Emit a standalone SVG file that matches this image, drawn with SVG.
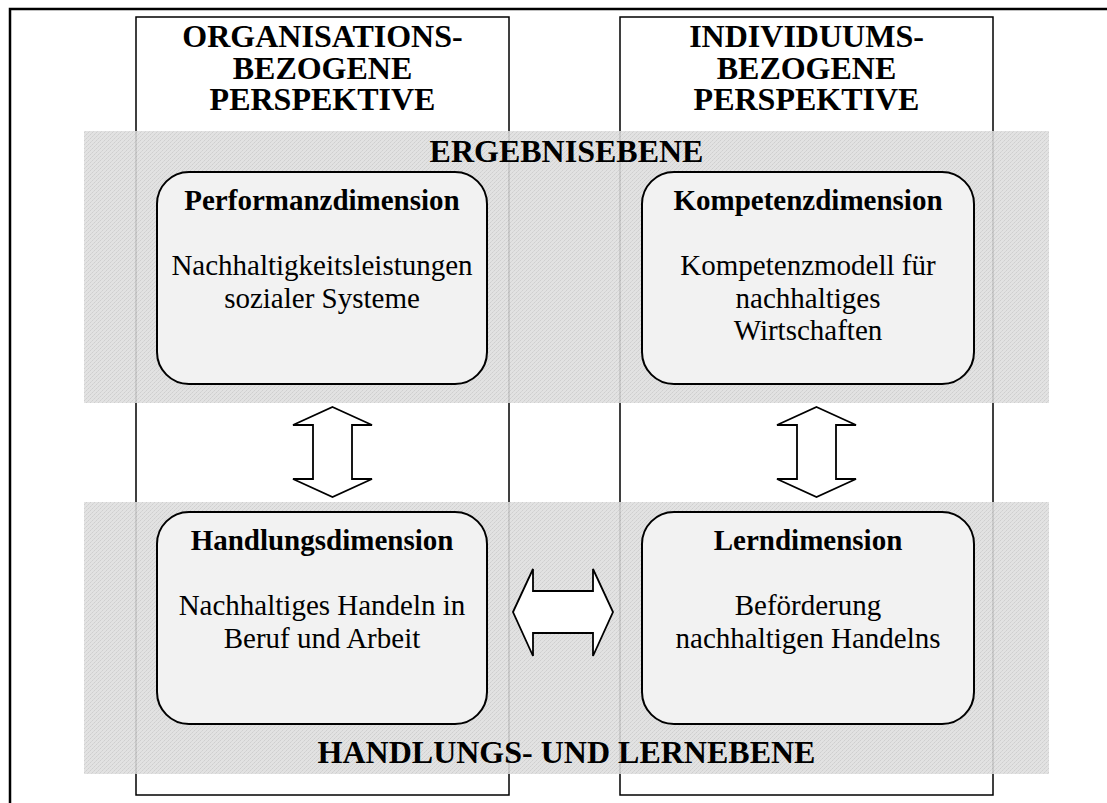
<svg xmlns="http://www.w3.org/2000/svg" width="1107" height="803" viewBox="0 0 1107 803">
<style>
.title{font-family:"Liberation Serif","Times New Roman",serif;font-weight:bold;font-size:32px;text-anchor:middle;fill:#000}
.bt{font-family:"Liberation Serif","Times New Roman",serif;font-weight:bold;font-size:29px;text-anchor:middle;fill:#000}
.t{font-family:"Liberation Serif","Times New Roman",serif;font-size:29px;text-anchor:middle;fill:#000}
.col{fill:none;stroke:#000;stroke-width:1.5}
.band{fill:url(#dots);opacity:0.88}
.box{fill:#f2f2f2;stroke:#000;stroke-width:2}
.arrow{fill:#fff;stroke:#000;stroke-width:1.8;stroke-linejoin:miter}
</style>
<defs>
<pattern id="dots" patternUnits="userSpaceOnUse" width="4" height="4">
<rect width="4" height="4" fill="#dedede"/>
<rect x="0" y="0" width="1" height="1" fill="#c8c8c8"/>
<rect x="2" y="2" width="1" height="1" fill="#c8c8c8"/>
<rect x="1" y="3" width="1" height="1" fill="#d0d0d0"/>
<rect x="3" y="1" width="1" height="1" fill="#d0d0d0"/>
</pattern>
</defs>
<rect x="0" y="0" width="1107" height="803" fill="#fff"/>
<g id="frame"><rect x="10" y="9" width="1120" height="820" fill="none" stroke="#000" stroke-width="2.5"/></g>
<g id="col-org"><rect class="col" x="136" y="17" width="373" height="778"/>
<text class="title" x="322.5" y="47">ORGANISATIONS-</text>
<text class="title" x="322.5" y="79">BEZOGENE</text>
<text class="title" x="322.5" y="110">PERSPEKTIVE</text></g>
<g id="col-ind"><rect class="col" x="620" y="17" width="373" height="778"/>
<text class="title" x="806.5" y="47">INDIVIDUUMS-</text>
<text class="title" x="806.5" y="79">BEZOGENE</text>
<text class="title" x="806.5" y="110">PERSPEKTIVE</text></g>
<g id="band-ergebnis"><rect class="band" x="84" y="131" width="965" height="272"/>
<text class="title" x="566.5" y="162">ERGEBNISEBENE</text></g>
<g id="band-handlung"><rect class="band" x="84" y="502" width="965" height="272"/>
<text class="title" x="566.5" y="763">HANDLUNGS- UND LERNEBENE</text></g>
<g id="performanz"><rect class="box" x="157" y="172" width="330" height="212" rx="32" ry="32"/>
<text class="bt" x="322" y="210">Performanzdimension</text>
<text class="t" x="322" y="275">Nachhaltigkeitsleistungen</text>
<text class="t" x="322" y="307.5">sozialer Systeme</text></g>
<g id="kompetenz"><rect class="box" x="642" y="172" width="332" height="212" rx="32" ry="32"/>
<text class="bt" x="808" y="210">Kompetenzdimension</text>
<text class="t" x="808" y="275">Kompetenzmodell für</text>
<text class="t" x="808" y="307.5">nachhaltiges</text>
<text class="t" x="808" y="340">Wirtschaften</text></g>
<g id="handlung"><rect class="box" x="157" y="512" width="330" height="212" rx="32" ry="32"/>
<text class="bt" x="322" y="550">Handlungsdimension</text>
<text class="t" x="322" y="615">Nachhaltiges Handeln in</text>
<text class="t" x="322" y="647.5">Beruf und Arbeit</text></g>
<g id="lern"><rect class="box" x="642" y="512" width="332" height="212" rx="32" ry="32"/>
<text class="bt" x="808" y="550">Lerndimension</text>
<text class="t" x="808" y="615">Beförderung</text>
<text class="t" x="808" y="647.5">nachhaltigen Handelns</text></g>
<g id="connectors">
<polygon class="arrow" points="332.5,407 372,425 352,425 352,479 372,479 332.5,497 293,479 313,479 313,425 293,425"/>
<polygon class="arrow" points="816.5,407 856,425 836,425 836,479 856,479 816.5,497 777,479 797,479 797,425 777,425"/>
<polygon class="arrow" points="513,612 533,569 533,591 593,591 593,569 613,612 593,656 593,633 533,633 533,656"/>
</g>
</svg>
